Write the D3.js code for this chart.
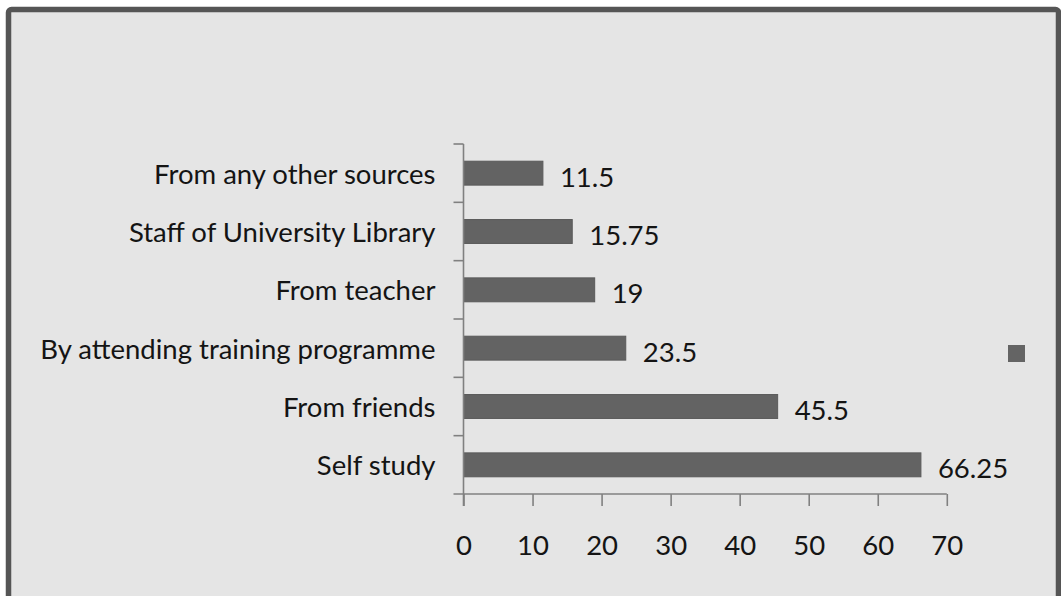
<!DOCTYPE html>
<html>
<head>
<meta charset="utf-8">
<script src="https://cdn.jsdelivr.net/npm/d3@7"></script>
<style>
  html, body { margin: 0; padding: 0; background: #ffffff; }
  svg { display: block; }
  text { font-family: Lato, "Open Sans", sans-serif; fill: #141414; }
</style>
</head>
<body>
<svg id="chart" width="1061" height="596"></svg>
<script>
// Sources of learning, percentage of respondents
const categories = [
  "From any other sources",
  "Staff of University Library",
  "From teacher",
  "By attending training programme",
  "From friends",
  "Self study"
];
const values = [11.5, 15.75, 19, 23.5, 45.5, 66.25];
const valueLabels = ["11.5", "15.75", "19", "23.5", "45.5", "66.25"];
const xTicks = [0, 10, 20, 30, 40, 50, 60, 70];

const svg = d3.select("#chart");
const W = 1061, H = 596;

// chart frame
svg.append("rect")
  .attr("x", 8.5).attr("y", 9.5)
  .attr("width", W - 11).attr("height", H + 20)
  .attr("rx", 3)
  .attr("fill", "#e5e5e5")
  .attr("stroke", "#555555")
  .attr("stroke-width", 5.5);

const plot = { left: 463.5, right: 946.8, top: 144, bottom: 494 };

const x = d3.scaleLinear().domain([0, 70]).range([plot.left, plot.right]);
const y = d3.scaleBand().domain(categories).range([plot.top, plot.bottom]).paddingInner(0.59).paddingOuter(0.295);

const axisColor = "#808080";
const fontSize = 27.5;

// bars
svg.append("g").selectAll("rect")
  .data(categories)
  .join("rect")
  .attr("x", x(0))
  .attr("y", d => y(d))
  .attr("width", (d, i) => x(values[i]) - x(0))
  .attr("height", y.bandwidth())
  .attr("fill", "#636363")
  .attr("stroke", "#5a5a5a")
  .attr("stroke-width", 1);

// value labels
svg.append("g").selectAll("text")
  .data(categories)
  .join("text")
  .attr("x", (d, i) => x(values[i]) + 17)
  .attr("y", d => y(d) + y.bandwidth() / 2 + 3)
  .attr("dominant-baseline", "central")
  .attr("font-size", fontSize)
  .text((d, i) => valueLabels[i]);

// x axis
const xAxis = svg.append("g")
  .attr("transform", `translate(0,${plot.bottom})`)
  .call(d3.axisBottom(x).tickValues(xTicks).tickSize(12).tickPadding(29).tickFormat(d3.format("d")));
xAxis.select(".domain").attr("stroke", axisColor).attr("stroke-width", 1.6)
  .attr("d", `M${plot.left - 10},0H${plot.right}`);
xAxis.selectAll(".tick line").attr("stroke", axisColor).attr("stroke-width", 1.6);
xAxis.selectAll(".tick text")
  .attr("font-size", fontSize)
  .attr("font-family", "Lato, 'Open Sans', sans-serif")
  .attr("fill", "#141414");

// y axis: category boundaries as ticks
const bounds = d3.range(categories.length + 1).map(i => plot.top + i * (plot.bottom - plot.top) / categories.length);
const yAxis = svg.append("g");
yAxis.append("line")
  .attr("x1", plot.left).attr("x2", plot.left)
  .attr("y1", plot.top).attr("y2", plot.bottom + 12)
  .attr("stroke", axisColor).attr("stroke-width", 1.6);
yAxis.selectAll("line.tk")
  .data(bounds.slice(0, -1))
  .join("line")
  .attr("class", "tk")
  .attr("x1", plot.left - 10).attr("x2", plot.left)
  .attr("y1", d => d).attr("y2", d => d)
  .attr("stroke", axisColor).attr("stroke-width", 1.6);

// category labels
svg.append("g").selectAll("text")
  .data(categories)
  .join("text")
  .attr("x", plot.left - 28)
  .attr("y", d => y(d) + y.bandwidth() / 2)
  .attr("text-anchor", "end")
  .attr("dominant-baseline", "central")
  .attr("font-size", fontSize)
  .text(d => d);

// legend key
svg.append("rect")
  .attr("x", 1008).attr("y", 345)
  .attr("width", 17).attr("height", 17)
  .attr("fill", "#646464");
</script>
</body>
</html>
